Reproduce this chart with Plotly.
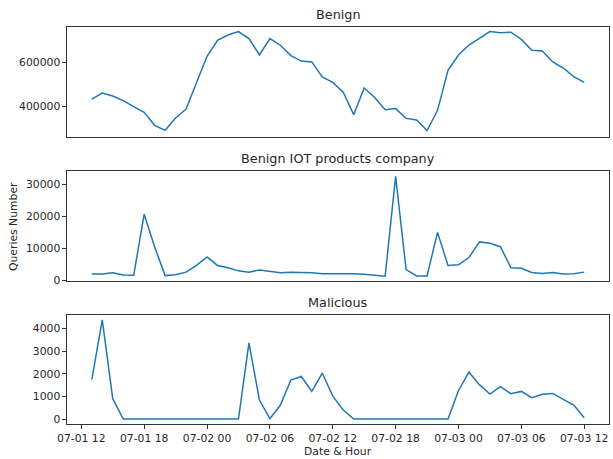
import pandas as pd
import plotly.graph_objects as go
from plotly.subplots import make_subplots

hours = pd.date_range("2020-07-01 13:00", "2020-07-03 12:00", freq="h")

benign = [432000, 460000, 446000, 425000, 397000, 371000, 311000, 288000, 345000, 386000,
          508000, 629000, 703000, 727000, 743000, 711000, 635000, 711000, 680000, 632000,
          607000, 603000, 534000, 509000, 464000, 360000, 483000, 439000, 383000, 388000,
          343000, 336000, 287000, 380000, 564000, 635000, 681000, 713000, 743000, 738000,
          740000, 707000, 657000, 653000, 603000, 575000, 535000, 509000]

iot = [1900, 1900, 2300, 1600, 1500, 20700, 10400, 1400, 1700, 2500,
       4600, 7300, 4600, 3900, 2900, 2500, 3200, 2700, 2300, 2500,
       2500, 2300, 2000, 2000, 2100, 2000, 1800, 1400, 1200, 32600,
       3300, 1300, 1300, 15000, 4600, 4800, 7100, 12000, 11600, 10500,
       3900, 3700, 2400, 2100, 2400, 1900, 2000, 2500]

malicious = [1740, 4380, 900, 0, 0, 0, 0, 0, 0, 0,
             0, 0, 0, 0, 0, 3360, 840, 20, 620, 1720,
             1880, 1220, 2030, 1010, 400, 0, 0, 0, 0, 0,
             0, 0, 0, 0, 0, 1260, 2070, 1520, 1100, 1430,
             1120, 1220, 940, 1090, 1130, 870, 620, 60]

titles = ["Benign", "Benign IOT products company", "Malicious"]
series = [benign, iot, malicious]
y_ranges = [[259000, 764000], [-385, 34300], [-219, 4580]]
y_dticks = [200000, 10000, 1000]
tick_labels_x = ["07-01 12", "07-01 18", "07-02 00", "07-02 06", "07-02 12",
                 "07-02 18", "07-03 00", "07-03 06", "07-03 12"]
tick_vals_x = pd.date_range("2020-07-01 12:00", "2020-07-03 12:00", freq="6h")

W, H = 613, 459
L, R, T, B = 67.3, 3.5, 26.7, 35.3
ph = H - T - B
pw = W - L - R

# pixel boxes (top, bottom) measured from top of page
boxes = [(26.7, 136.3), (170.7, 281.0), (315.0, 423.7)]
domains = [[(H - B - b) / ph, (H - B - t) / ph] for t, b in boxes]
domains = [[max(0, d[0]), min(1, d[1])] for d in domains]

fig = make_subplots(rows=3, cols=1, shared_xaxes=True)

font_fam = "DejaVu Sans"
axcol = "#333333"
txtcol = "#262626"

for i, ys in enumerate(series):
    fig.add_trace(go.Scatter(x=hours, y=ys, mode="lines",
                             line=dict(color="#1f77b4", width=1.5),
                             showlegend=False), row=i + 1, col=1)

xr = [pd.Timestamp("2020-07-01 10:38"), pd.Timestamp("2020-07-03 14:22")]
for i in range(3):
    xa = "xaxis" if i == 0 else f"xaxis{i+1}"
    ya = "yaxis" if i == 0 else f"yaxis{i+1}"
    fig.layout[xa].update(
        range=xr, showgrid=False, zeroline=False, showline=True, mirror=True,
        linecolor=axcol, linewidth=1.1,
        ticks="outside" if i == 2 else "", ticklen=3.5, tickcolor=axcol,
        tickvals=list(tick_vals_x) if i == 2 else None,
        ticktext=tick_labels_x if i == 2 else None,
        showticklabels=(i == 2),
        tickfont=dict(family=font_fam, size=10.8, color=txtcol),
    )
    fig.layout[ya].update(
        domain=domains[i], range=y_ranges[i], dtick=y_dticks[i], tick0=0,
        showgrid=False, zeroline=False, showline=True, mirror=True,
        linecolor=axcol, linewidth=1.1, ticks="outside", ticklen=3.5,
        tickcolor=axcol, tickformat="d",
        tickfont=dict(family=font_fam, size=10.8, color=txtcol),
    )

annotations = []
for i, (t, b) in enumerate(boxes):
    annotations.append(dict(text=titles[i], xref="paper", yref="paper", x=0.5,
                            y=(H - B - t) / ph, yanchor="bottom", yshift=3,
                            showarrow=False,
                            font=dict(family=font_fam, size=12.8, color=txtcol)))
annotations.append(dict(text="Queries Number", xref="paper", yref="paper",
                        x=(14 - L) / pw, y=(H - B - 226) / ph, textangle=-90,
                        xanchor="center", yanchor="middle", showarrow=False,
                        font=dict(family=font_fam, size=10.8, color=txtcol)))
annotations.append(dict(text="Date & Hour", xref="paper", yref="paper",
                        x=0.5, y=-(451 - (H - B)) / ph, xanchor="center",
                        yanchor="middle", showarrow=False,
                        font=dict(family=font_fam, size=10.8, color=txtcol)))

fig.update_layout(width=W, height=H, margin=dict(l=L, r=R, t=T, b=B),
                  plot_bgcolor="white", paper_bgcolor="white",
                  annotations=annotations, font=dict(family=font_fam),
                  hovermode=False)

fig.write_html("out.html", config={"displayModeBar": False},
               post_script="document.body.style.margin='0';"
                           "document.body.style.overflow='hidden';")
